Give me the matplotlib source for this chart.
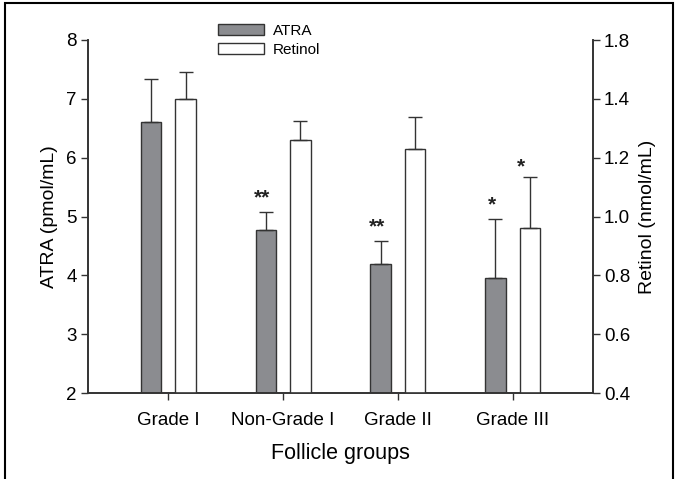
import numpy as np
import matplotlib
matplotlib.use("Agg")
import matplotlib.pyplot as plt
from matplotlib.patches import Rectangle

plt.rcParams['font.family'] = ['Liberation Sans', 'DejaVu Sans']

groups = ["Grade I", "Non-Grade I", "Grade II", "Grade III"]
atra = [6.60, 4.77, 4.20, 3.96]            # pmol/mL
atra_err = [0.73, 0.31, 0.39, 1.00]
retinol = [1.40, 1.26, 1.23, 0.96]         # nmol/mL
retinol_err = [0.09, 0.065, 0.108, 0.173]
atra_marks = ["", "**", "**", "*"]
retinol_marks = ["", "", "", "*"]
right_ticks = [0.4, 0.6, 0.8, 1.0, 1.2, 1.4, 1.6]
right_labels = ["0.4", "0.6", "0.8", "1.0", "1.2", "1.4", "1.8"]

fig = plt.figure(figsize=(6.75, 4.79), dpi=100)
ax = fig.add_axes([88/675, 1-393/479, 505/675, 353/479])
ax2 = ax.twinx()

x = np.arange(len(groups))
w = 0.18
off = 0.15
dark = "#333333"

ax.bar(x - off, atra, w, bottom=0, color="#8b8c90", edgecolor=dark, linewidth=1.0,
       label="ATRA", zorder=2)
ax.errorbar(x - off, atra, yerr=[np.zeros(4), atra_err], fmt="none", ecolor=dark,
            elinewidth=1.0, capsize=5, capthick=1.0, zorder=3)
ax2.bar(x + off, retinol, w, color="white", edgecolor=dark, linewidth=1.0,
        label="Retinol", zorder=2)
ax2.errorbar(x + off, retinol, yerr=[np.zeros(4), retinol_err], fmt="none", ecolor=dark,
             elinewidth=1.0, capsize=5, capthick=1.0, zorder=3)

for i in range(4):
    if atra_marks[i]:
        ax.text(x[i] - off - 0.03, atra[i] + atra_err[i] + 0.08, atra_marks[i],
                ha="center", va="bottom", fontsize=15, fontweight="bold", color="#222222")
    if retinol_marks[i]:
        ax2.text(x[i] + off - 0.08, retinol[i] + retinol_err[i] + 0.005, retinol_marks[i],
                 ha="center", va="bottom", fontsize=15, fontweight="bold", color="#222222")

ax.set_xlim(-0.7, 3.7)
ax.set_ylim(2, 8)
ax2.set_ylim(0.4, 1.6)
ax.set_yticks(range(2, 9))
ax2.set_yticks(right_ticks)
ax2.set_yticklabels(right_labels)
ax.set_xticks(x)
ax.set_xticklabels(groups)

for a in (ax, ax2):
    a.spines["top"].set_visible(False)
    for s in a.spines.values():
        s.set_color(dark)
        s.set_linewidth(1.2)
    a.tick_params(axis="y", labelsize=13.5, length=5, width=1.0, color=dark, pad=3)
ax.tick_params(axis="x", labelsize=13.5, length=5, width=1.0, color=dark, pad=9)

ax.set_ylabel("ATRA (pmol/mL)", fontsize=14, labelpad=6)
ax2.set_ylabel("Retinol (nmol/mL)", fontsize=14, labelpad=6)
ax.set_xlabel("Follicle groups", fontsize=15.5, labelpad=10)

h1, l1 = ax.get_legend_handles_labels()
h2, l2 = ax2.get_legend_handles_labels()
ax2.legend(h1 + h2, l1 + l2, loc="upper left", bbox_to_anchor=(0.23, 1.085),
           frameon=False, fontsize=11, handlelength=3.0, handleheight=0.7,
           labelspacing=0.35, handletextpad=0.6)

fig.patches.append(Rectangle((0.008, -0.02), 0.989, 1.013, transform=fig.transFigure,
                             fill=False, edgecolor="black", linewidth=1.5))

fig.savefig("out.png", dpi=100)
